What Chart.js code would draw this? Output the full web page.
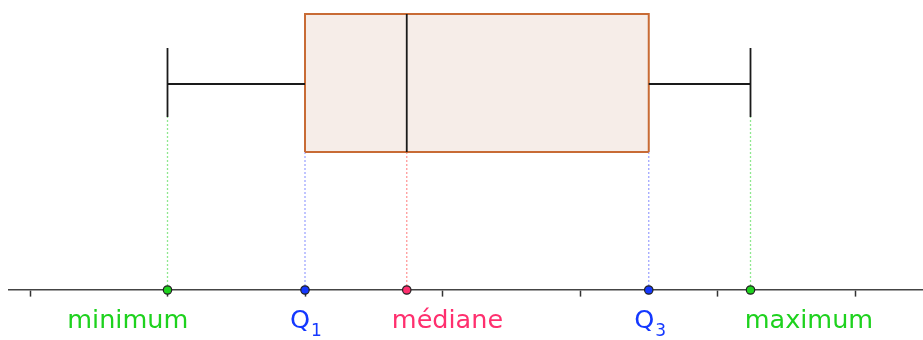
<!DOCTYPE html>
<html>
<head>
<meta charset="utf-8">
<script src="https://cdn.jsdelivr.net/npm/chart.js@4.4.1/dist/chart.umd.min.js"></script>
<style>
  html, body { margin: 0; padding: 0; background: #ffffff; }
  #wrap { width: 923px; height: 340px; position: relative; }
</style>
</head>
<body>
<div id="wrap"><canvas id="c" width="923" height="340"></canvas></div>
<script>
// ---- data ----
const summaryNames = ['minimum', 'Q1', 'médiane', 'Q3', 'maximum'];
const summaryValues = [1, 2, 2.74, 4.5, 5.24];   // min, Q1, median, Q3, max
const tickValues = [0, 1, 2, 3, 4, 5, 6];
const labelTexts = ['minimum', 'Q', 'médiane', 'Q', 'maximum'];
const labelSubs = ['', '1', '', '3', ''];

// ---- layout (vertical positions in y-units, axis at 0) ----
const BOX_BOTTOM = 138, BOX_TOP = 276, WHISKER_Y = 206, CAP_LOW = 173, CAP_HIGH = 242;
const LABEL_Y = -38;
const labelAnchors = [0.711, 2.007, 3.036, 4.51, 5.665];

const [vMin, vQ1, vMed, vQ3, vMax] = summaryValues;
const GREEN = '#1ed21e', BLUE = '#1438ff', PINK = '#ff2f6e';
const BOX_EDGE = '#c86b35';
const pointColors = [GREEN, BLUE, PINK, BLUE, GREEN];
const labelColors = [GREEN, BLUE, PINK, BLUE, GREEN];
const dashColors = ['#8fe88f', '#9fa6ff', '#ff9a9a', '#9fa6ff', '#8fe88f'];
const dashTops = [CAP_LOW, BOX_BOTTOM, BOX_BOTTOM, BOX_BOTTOM, CAP_LOW];

// "z" controls stacking: higher z is drawn later (on top)
const seg = (pts, color, width, z, extra) => Object.assign({
  type: 'line', data: pts, borderColor: color, borderWidth: width,
  pointRadius: 0, pointHoverRadius: 0, fill: false, tension: 0, order: -z
}, extra || {});

const datasets = [];
// dashed guides
summaryValues.forEach((v, i) => {
  datasets.push(seg([{x: v, y: 0}, {x: v, y: dashTops[i]}], dashColors[i], 1.3, 1, {borderDash: [2, 2]}));
});
// box (filled outline, then bottom edge)
datasets.push(seg([
  {x: vQ1, y: BOX_BOTTOM}, {x: vQ1, y: BOX_TOP}, {x: vQ3, y: BOX_TOP}, {x: vQ3, y: BOX_BOTTOM}
], BOX_EDGE, 2, 2, {fill: {value: BOX_BOTTOM}, backgroundColor: '#f6ede8'}));
datasets.push(seg([{x: vQ1, y: BOX_BOTTOM}, {x: vQ3, y: BOX_BOTTOM}], BOX_EDGE, 2, 3));
// median
datasets.push(seg([{x: vMed, y: BOX_BOTTOM}, {x: vMed, y: BOX_TOP}], '#1a1a1a', 1.8, 4));
// whiskers
datasets.push(seg([{x: vMin, y: WHISKER_Y}, {x: vQ1, y: WHISKER_Y}], '#1a1a1a', 1.8, 4));
datasets.push(seg([{x: vQ3, y: WHISKER_Y}, {x: vMax, y: WHISKER_Y}], '#1a1a1a', 1.8, 4));
datasets.push(seg([{x: vMin, y: CAP_LOW}, {x: vMin, y: CAP_HIGH}], '#1a1a1a', 1.8, 4));
datasets.push(seg([{x: vMax, y: CAP_LOW}, {x: vMax, y: CAP_HIGH}], '#1a1a1a', 1.8, 4));
// points on axis
datasets.push({
  type: 'scatter', data: summaryValues.map(v => ({x: v, y: 0})), order: -10,
  pointRadius: 4.2, pointHoverRadius: 4.2, pointBackgroundColor: pointColors,
  pointBorderColor: '#222', pointBorderWidth: 1.2, showLine: false
});

const labelPlugin = {
  id: 'labels',
  afterDatasetsDraw(chart) {
    const ctx = chart.ctx, xs = chart.scales.x, ys = chart.scales.y;
    ctx.save();
    ctx.textBaseline = 'alphabetic';
    labelTexts.forEach((t, i) => {
      const main = '25.5px "DejaVu Sans"', sub = '17px "DejaVu Sans"';
      ctx.font = main; const w1 = ctx.measureText(t).width;
      ctx.font = sub; const w2 = labelSubs[i] ? ctx.measureText(labelSubs[i]).width + 1 : 0;
      const cx = xs.getPixelForValue(labelAnchors[i]);
      const base = ys.getPixelForValue(LABEL_Y);
      const x0 = cx - (w1 + w2) / 2;
      ctx.fillStyle = labelColors[i];
      ctx.textAlign = 'left';
      ctx.font = main; ctx.fillText(t, x0, base);
      if (labelSubs[i]) { ctx.font = sub; ctx.fillText(labelSubs[i], x0 + w1 + 1, base + 8); }
    });
    ctx.restore();
  }
};

new Chart(document.getElementById('c'), {
  data: { datasets },
  options: {
    responsive: false, animation: false, devicePixelRatio: 1,
    layout: { autoPadding: false, padding: { left: 9, right: 0, top: 0, bottom: 0 } },
    plugins: { legend: { display: false }, tooltip: { enabled: false } },
    events: [],
    scales: {
      x: {
        type: 'linear', min: -21 / 137.5, max: 893 / 137.5,
        position: { y: 0 },
        afterBuildTicks: s => { s.ticks = tickValues.map(v => ({ value: v })); },
        ticks: { display: false },
        grid: { drawOnChartArea: false, drawTicks: true, tickLength: 6, tickWidth: 1.5, color: '#333' },
        border: { display: true, color: '#444', width: 1.6 }
      },
      y: { type: 'linear', min: -50, max: 290, display: false }
    }
  },
  plugins: [labelPlugin]
});
</script>
</body>
</html>
